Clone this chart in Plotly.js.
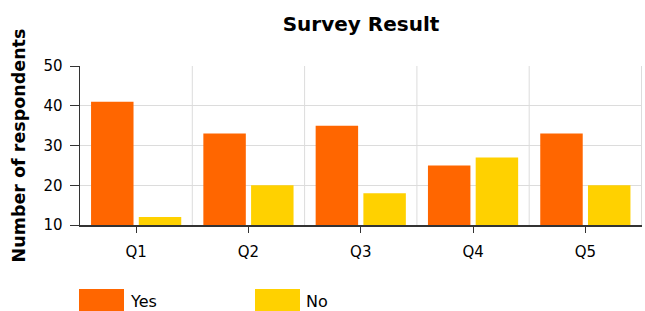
<!DOCTYPE html>
<html>
<head>
<meta charset="utf-8">
<script src="https://cdn.plot.ly/plotly-3.0.1.min.js"></script>
<style>html,body{margin:0;padding:0;background:#fff;}#chart{width:645px;height:311px;}</style>
</head>
<body>
<div id="chart"></div>
<script>
var categories = ["Q1", "Q2", "Q3", "Q4", "Q5"];
var yesValues = [41, 33, 35, 25, 33];
var noValues = [12, 20, 18, 27, 20];
var seriesNames = ["Yes", "No"];
var seriesColors = ["#FF6600", "#FFD100"];
var yTicks = [10, 20, 30, 40, 50];

var font = "DejaVu Sans, Verdana, sans-serif";

var traces = [
  {type: "bar", name: seriesNames[0], x: categories, y: yesValues, marker: {color: seriesColors[0]}, hoverinfo: "x+y"},
  {type: "bar", name: seriesNames[1], x: categories, y: noValues, marker: {color: seriesColors[1]}, hoverinfo: "x+y"}
];

var L = 80, R = 642, T = 66, B = 225;
var W = R - L, H = B - T;
var shapes = [];
for (var i = 0; i < categories.length; i++) {
  shapes.push({type: "line", xref: "x", yref: "paper", x0: i + 0.5, x1: i + 0.5, y0: 0, y1: 1,
    line: {color: "#dcdcdc", width: 1}, layer: "below"});
}
var annotations = [];
var legendX = [79, 255];
for (var j = 0; j < seriesNames.length; j++) {
  shapes.push({type: "rect", xref: "paper", yref: "paper",
    x0: (legendX[j] - L) / W, x1: (legendX[j] + 45 - L) / W,
    y0: -(289 - B) / H, y1: -(311 - B) / H, fillcolor: seriesColors[j], line: {width: 0}});
  annotations.push({xref: "paper", yref: "paper", x: (legendX[j] + 49 - L) / W, y: -(301 - B) / H,
    xanchor: "left", yanchor: "middle", text: seriesNames[j], showarrow: false,
    font: {family: font, size: 16, color: "#000"}});
}

var layout = {
  width: 645, height: 311,
  margin: {l: L, r: 645 - R, t: T, b: 311 - B, pad: 0},
  paper_bgcolor: "#fff", plot_bgcolor: "#fff",
  title: {text: "<b>Survey Result</b>", x: 0.5, xref: "paper", y: 1 - 24 / 311, yref: "container", yanchor: "middle",
    font: {family: font, size: 20, color: "#000"}},
  showlegend: false,
  bargap: 0.15, bargroupgap: 0.11,
  xaxis: {type: "category", showgrid: false, showline: true, linecolor: "#333", linewidth: 2,
    ticks: "outside", ticklen: 6, tickcolor: "#333", ticklabelstandoff: 6,
    tickfont: {family: font, size: 15, color: "#000"}, fixedrange: true},
  yaxis: {range: [10, 50], tickvals: yTicks, showgrid: true, gridcolor: "#dcdcdc", showline: true,
    linecolor: "#333", linewidth: 1.5, ticks: "outside", ticklen: 9, tickcolor: "#333", zeroline: false,
    ticklabelstandoff: 4,
    tickfont: {family: font, size: 15, color: "#000"},
    title: {text: "<b>Number of respondents</b>", standoff: 13, font: {family: font, size: 17.5, color: "#000"}},
    fixedrange: true},
  shapes: shapes,
  annotations: annotations
};

Plotly.newPlot("chart", traces, layout, {displayModeBar: false, staticPlot: true});
</script>
</body>
</html>
